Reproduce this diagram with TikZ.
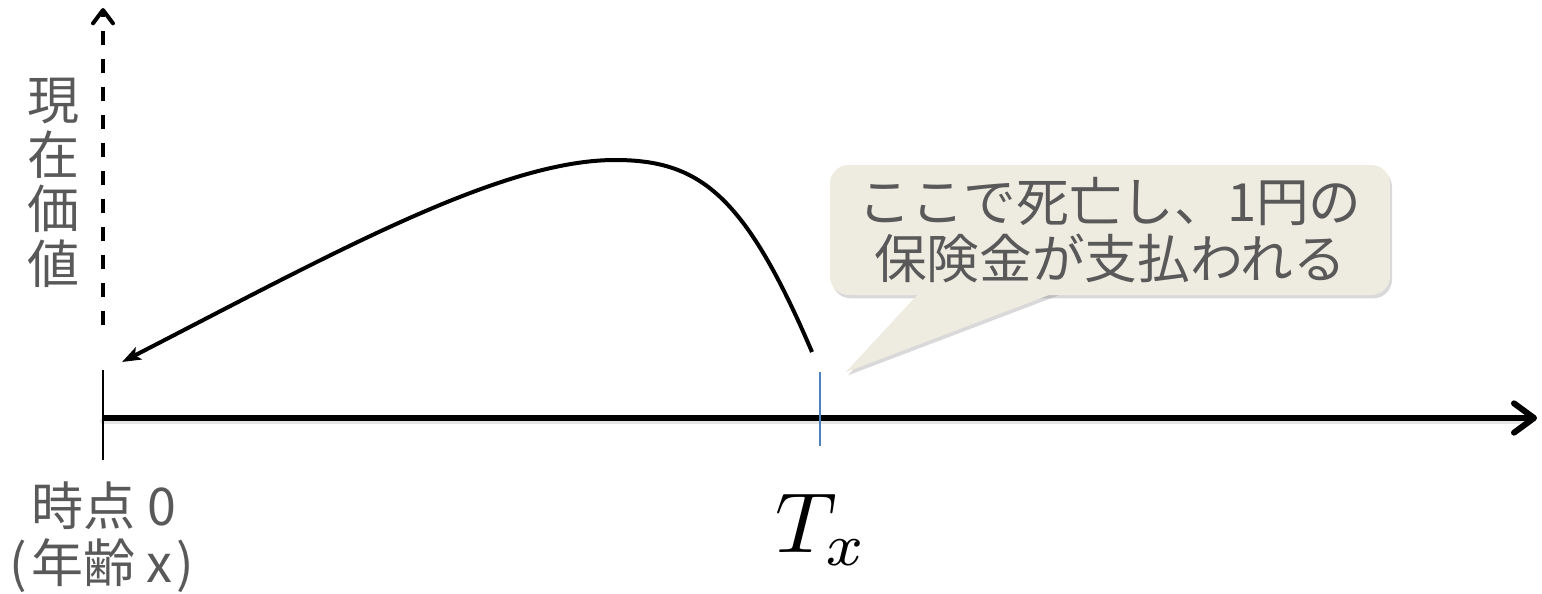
\documentclass[tikz,border=0pt]{standalone}
\usepackage{fontspec}
\newfontfamily\jp{Noto Sans CJK JP}
\usetikzlibrary{arrows.meta,shadows}
\definecolor{txtgray}{HTML}{595959}
\definecolor{callfill}{HTML}{EEECE1}
\definecolor{tickblue}{HTML}{4F81BD}
\begin{document}
\begin{tikzpicture}[x=0.75pt,y=-0.75pt,
  lbl/.style={text=txtgray, inner sep=0pt, font=\jp\fontsize{39}{41}\selectfont},
  calltext/.style={text=txtgray, font=\jp\fontsize{39.5}{43}\selectfont, align=center},
  axisline/.style={line width=4.5pt, -{Straight Barb[length=15pt,width=22pt,line join=round,line cap=round]}},
  dashaxis/.style={line width=3pt, dash pattern=on 10.5pt off 10.5pt, -{Straight Barb[length=10pt,width=15pt,line join=round,line cap=round]}},
  curveline/.style={line width=3pt, -{Stealth[length=14pt,width=10pt,inset=3pt]}},
  tickline/.style={line width=1.5pt},
  bluetick/.style={line width=1pt, draw=tickblue},
  callbox/.style={fill=callfill, rounded corners=14pt, minimum width=420pt, minimum height=97.5pt, inner sep=0pt}
]
\useasboundingbox (0,0) rectangle (1542,593);

% coordinates
\coordinate (o) at (103,418);
\coordinate (xend) at (1537,418);
\coordinate (ybot) at (103,325);
\coordinate (ytop) at (103,8);
\coordinate (tickt) at (103,370);
\coordinate (tickb) at (103,460);
\coordinate (cstart) at (812,352);
\coordinate (cend) at (122,362);
\coordinate (bt) at (820,372);
\coordinate (bb) at (820,446);
\coordinate (tip) at (846,372);

% axis shadow
\draw[line width=4.5pt, black, opacity=0.1, line cap=round] ([yshift=-2.5pt]o) -- ([xshift=-8pt,yshift=-2.5pt]xend);
% horizontal axis
\draw[axisline] (o) -- (xend);
% vertical dashed axis
\draw[dashaxis] (ybot) -- (ytop);
% origin tick
\draw[tickline] (tickt) -- (tickb);
% curve
\draw[curveline] (cstart) .. controls (745,195) and (700,160) .. (615,160)
  .. controls (500,160) and (330,255) .. (cend);
% blue tick at T_x
\draw[bluetick] (bt) -- (bb);

% callout
\fill[callfill, drop shadow={opacity=0.3, shadow xshift=1.5pt, shadow yshift=-2.5pt}] (922,290) -- (tip) -- (1062,290) -- cycle;
\node[callbox, drop shadow={opacity=0.3, shadow xshift=1.5pt, shadow yshift=-2.5pt}] (callout) at (1110,230) {};
\fill[callfill] (922,290) -- (tip) -- (1062,290) -- cycle;
\node[calltext] (calltxt) at (callout.center) {ここで死亡し、1円の\\保険金が支払われる};

% labels
\node[lbl, align=center] (ylabel) at (53,183) {現\\在\\価\\値};
\node[lbl, anchor=center] (t0) at (104,506) {時点 0};
\node[lbl, anchor=center] (age) at (102,566) {(\kern0.08em年齢 x\kern0.08em)};
\node[inner sep=0pt] (tx) at (822,530) {\scalebox{6.4}{$T_x$}};
\end{tikzpicture}
\end{document}
